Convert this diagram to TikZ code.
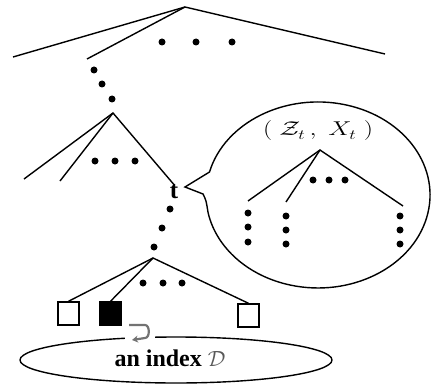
\RequirePackage{fix-cm}
\documentclass[tikz,border=0pt]{standalone}
\usepackage{fontspec}
\usepackage{graphicx}
\newfontfamily\labelserif{Liberation Serif}
\usetikzlibrary{arrows.meta,shapes.geometric}
\tikzset{
  edge/.style={line width=1.4pt},
  dot/.style={circle, fill=black, inner sep=0pt, minimum size=7pt},
  leafbox/.style={draw, line width=1.4pt, minimum width=21pt, minimum height=23pt, inner sep=0pt},
}
\begin{document}
\begin{tikzpicture}[x=1pt, y=-1pt]
  \useasboundingbox (0,0) rectangle (433,385);

  % top level of the tree
  \coordinate (r0) at (185,7);
  \coordinate (r0a) at (13,57);
  \coordinate (r0b) at (87,59);
  \coordinate (r0c) at (385,54);
  \draw[edge] (r0a) -- (r0) -- (r0c);
  \draw[edge] (r0) -- (r0b);
  \node[dot] (h1) at (162,42) {};
  \node[dot] (h2) at (196,42) {};
  \node[dot] (h3) at (232,42) {};

  % path down to the second subtree
  \node[dot] (p1) at (94,70) {};
  \node[dot] (p2) at (102,84) {};
  \node[dot] (p3) at (112,99) {};

  \coordinate (r1) at (113,113);
  \coordinate (r1a) at (24,179);
  \coordinate (r1b) at (60,181);
  \node[font=\labelserif\fontsize{25}{28}\selectfont\bfseries, inner sep=0pt] (t) at (174,192) {t};
  \draw[edge] (r1a) -- (r1) -- (t.north);
  \draw[edge] (r1) -- (r1b);
  \node[dot] (m1) at (95,161) {};
  \node[dot] (m2) at (115,161) {};
  \node[dot] (m3) at (135,161) {};

  % path below t
  \node[dot] (q1) at (170,209) {};
  \node[dot] (q2) at (162,228) {};
  \node[dot] (q3) at (154,247) {};

  % lowest subtree with its leaves
  \coordinate (r2) at (153,258);
  \node[leafbox] (b1) at (68.5,313.5) {};
  \node[leafbox, fill=black] (b2) at (110.5,313.5) {};
  \node[leafbox] (b3) at (248.5,315.5) {};
  \draw[edge] (b1.north) -- (r2) -- (b3.north);
  \draw[edge] (r2) -- (b2.north);
  \node[dot] (l1) at (143,283) {};
  \node[dot] (l2) at (163,283) {};
  \node[dot] (l3) at (182,283) {};

  % index ellipse
  \node[draw, line width=1.4pt, ellipse, minimum width=312pt, minimum height=46pt, inner sep=0pt] (idx) at (176,360) {};
  \node[font=\labelserif\fontsize{24}{28}\selectfont\bfseries, inner sep=0pt] (idxlabel) at (170,358)
    {an index {\fontsize{22}{26}\selectfont\color{black!65}$\mathcal{D}$}};
  \fill[white] (125,330) rectangle (155,345);
  \draw[black!55, line width=2.2pt, -{Stealth[length=6pt,width=7pt]}]
    (129,325) -- (145,325) to[out=0, in=0] (145,338) -- (132,340);

  % speech bubble for node t
  \coordinate (bt) at (185,187);
  \draw[line width=1.4pt] (209.5,172) arc[start angle=194.3, end angle=528.8, x radius=112, y radius=93]
    .. controls (206,200) .. (203,194) -- (bt) -- cycle;

  \node[font=\fontsize{20}{24}\selectfont, inner sep=0pt] (zx) at (318,131)
    {\scalebox{1.3}[1]{$(\;\mathcal{Z}_t\,,\;X_t\;)$}};
  \coordinate (s0) at (320,150);
  \coordinate (s1) at (248,201);
  \coordinate (s2) at (286,202);
  \coordinate (s3) at (403,206);
  \draw[edge] (s1) -- (s0) -- (s3);
  \draw[edge] (s0) -- (s2);
  \node[dot] (sd1) at (313,180) {};
  \node[dot] (sd2) at (329,180) {};
  \node[dot] (sd3) at (345,180) {};
  \foreach \y [count=\i] in {213,227,242} {
    \node[dot] (ca\i) at (248,\y) {};
  }
  \foreach \y [count=\i] in {216,230,244} {
    \node[dot] (cb\i) at (286,\y) {};
    \node[dot] (cc\i) at (400,\y) {};
  }
\end{tikzpicture}
\end{document}
